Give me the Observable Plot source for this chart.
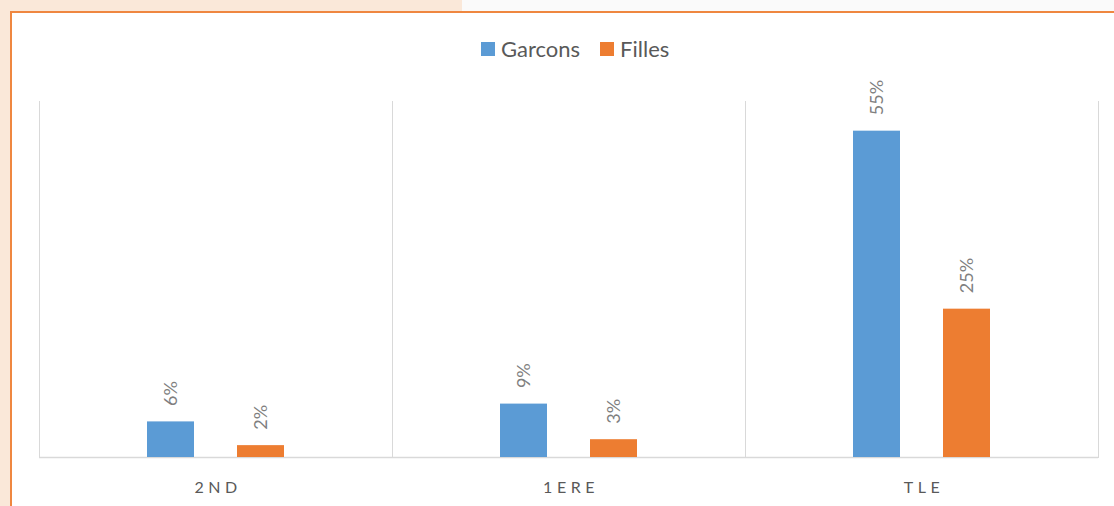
<!DOCTYPE html>
<html>
<head>
<meta charset="utf-8">
<script src="https://cdn.jsdelivr.net/npm/d3@7"></script>
<script src="https://cdn.jsdelivr.net/npm/@observablehq/plot@0.6"></script>
<style>
  html, body { margin: 0; padding: 0; background: #ffffff; }
  #wrap { position: relative; width: 1114px; height: 506px; overflow: hidden; background: #ffffff; font-family: Lato, "Open Sans", sans-serif; }
  .peach-top { position: absolute; left: 0; top: 0; width: 462px; height: 11px; background: #FAE8D9; }
  .grey-top { position: absolute; left: 462px; top: 0; width: 652px; height: 11px; background: #FAFAFA; }
  .peach-left { position: absolute; left: 0; top: 0; width: 10px; height: 506px; background: #FAE8D9; }
  .frame { position: absolute; left: 10px; top: 11px; width: 1200px; height: 600px; border-top: 2px solid #EF8740; border-left: 2px solid #EF8740; background: #ffffff; }
  #legend { position: absolute; top: 35px; left: 481px; display: flex; align-items: center; font-size: 22px; color: #595959; }
  #legend .sw { display: inline-block; width: 14px; height: 14px; margin-right: 6px; }
  #legend .item { display: flex; align-items: center; margin-right: 20px; }
  #chart { position: absolute; left: 0; top: 0; }
  #chart g[aria-label="fx-axis tick label"] text { letter-spacing: 4.5px; }
</style>
</head>
<body>
<div id="wrap">
  <div class="peach-top"></div>
  <div class="grey-top"></div>
  <div class="peach-left"></div>
  <div class="frame"></div>
  <div id="chart"></div>
  <div id="legend"></div>
</div>
<script>
const categories = ["2ND", "1ERE", "TLE"];
const series = ["Garcons", "Filles"];
const garcons = [6, 9, 55];
const filles = [2, 3, 25];
const colors = ["#5B9BD5", "#ED7D31"];

const data = categories.flatMap((c, i) => [
  {cat: c, serie: series[0], value: garcons[i]},
  {cat: c, serie: series[1], value: filles[i]}
]);

const legend = document.getElementById("legend");
series.forEach((s, i) => {
  const item = document.createElement("span");
  item.className = "item";
  const sw = document.createElement("span");
  sw.className = "sw";
  sw.style.background = colors[i];
  item.appendChild(sw);
  item.appendChild(document.createTextNode(s));
  legend.appendChild(item);
});

const chart = Plot.plot({
  width: 1114,
  height: 506,
  marginLeft: 39,
  marginRight: 16,
  marginTop: 101,
  marginBottom: 49,
  style: {background: "transparent", fontFamily: "Lato, 'Open Sans', sans-serif"},
  fx: {domain: categories, padding: 0, label: null},
  x: {domain: series, paddingInner: 0.4725, paddingOuter: 1.176, axis: null},
  y: {domain: [0, 60], axis: null},
  color: {domain: series, range: colors},
  marks: [
    Plot.frame({anchor: "left", stroke: "#D9D9D9"}),
    Plot.frame({anchor: "right", stroke: "#D9D9D9"}),
    Plot.ruleY([0], {stroke: "#D9D9D9", strokeWidth: 1.5}),
    Plot.barY(data, {fx: "cat", x: "serie", y: "value", fill: "serie"}),
    Plot.text(data, {
      fx: "cat", x: "serie", y: "value",
      text: d => d.value + "%",
      rotate: -90, textAnchor: "start", lineAnchor: "middle",
      dy: -16, fontSize: 18, fill: "#7F7F7F"
    }),
    Plot.axisFx({anchor: "bottom", tickSize: 0, tickPadding: 24, label: null, fontSize: 16, color: "#595959", dx: 2})
  ]
});
document.getElementById("chart").appendChild(chart);
</script>
</body>
</html>
